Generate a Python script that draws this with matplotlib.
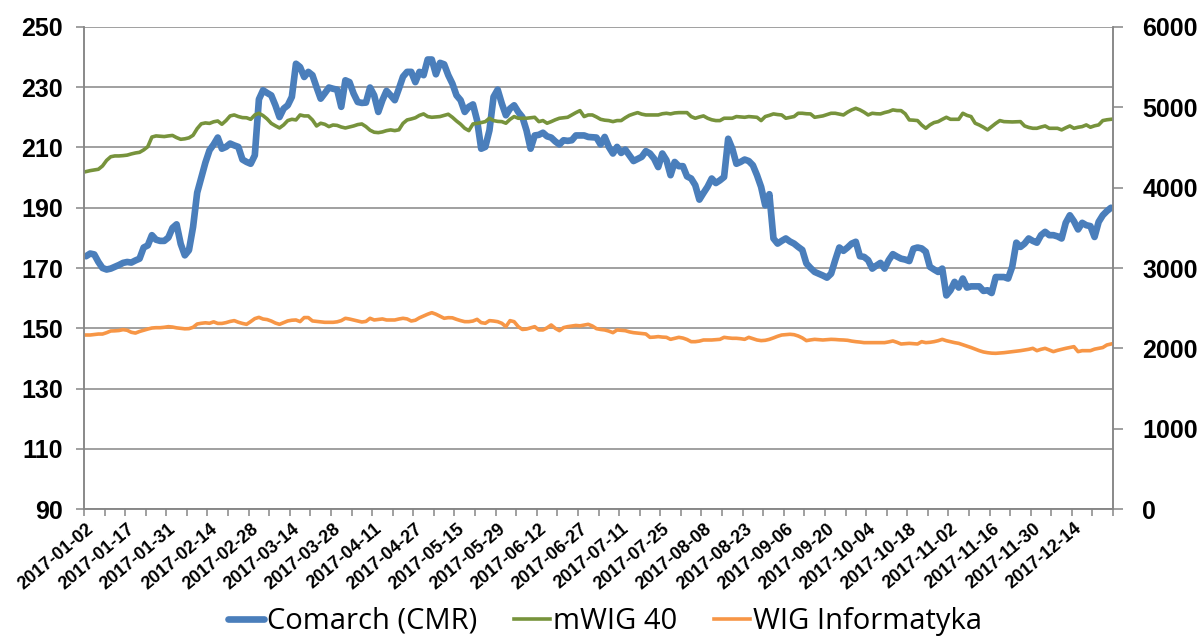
import matplotlib
matplotlib.use("Agg")
import matplotlib.pyplot as plt
import numpy as np
import pandas as pd

# Trading days on the Warsaw exchange in 2017 (weekdays minus market holidays)
holidays = ["2017-01-06", "2017-04-14", "2017-04-17", "2017-05-01", "2017-05-03",
            "2017-06-15", "2017-08-15", "2017-11-01", "2017-12-25", "2017-12-26"]
days = pd.bdate_range("2017-01-02", "2017-12-29")
days = days[~days.isin(pd.to_datetime(holidays))]
date_labels = [d.strftime("%Y-%m-%d") for d in days]

# Comarch (CMR) share price, left axis
comarch = [
    173.9, 174.8, 174.5, 172.0, 170.0, 169.5, 169.8, 170.4, 171.0, 171.7,
    172.0, 171.8, 172.5, 173.1, 176.8, 177.5, 180.9, 179.4, 179.0, 179.0,
    180.1, 183.3, 184.5, 178.0, 174.2, 175.9, 183.6, 195.0, 200.0, 205.0,
    209.1, 211.0, 213.3, 209.6, 210.2, 211.3, 210.7, 210.2, 206.0, 205.2,
    204.6, 207.4, 226.0, 229.0, 228.1, 227.3, 224.0, 220.1, 222.9, 224.0,
    226.8, 237.8, 236.7, 233.4, 235.1, 234.0, 230.0, 226.2, 228.0, 229.9,
    229.5, 229.2, 223.5, 232.3, 231.7, 227.9, 225.1, 224.8, 224.9, 229.9,
    227.3, 221.8, 225.7, 228.8, 227.3, 225.7, 229.5, 233.5, 235.1, 235.1,
    231.7, 235.1, 234.0, 239.2, 239.2, 234.3, 238.1, 237.6, 234.0, 231.2,
    227.3, 225.7, 221.8, 223.5, 224.3, 219.0, 209.6, 210.2, 215.7, 226.8,
    229.2, 224.6, 220.7, 222.9, 224.0, 221.8, 220.1, 215.7, 209.6, 214.0,
    214.2, 214.9, 213.7, 213.3, 212.0, 211.0, 212.4, 212.2, 212.4, 214.0,
    214.0, 214.0, 213.5, 213.4, 213.3, 211.0, 213.5, 210.2, 208.0, 210.2,
    208.2, 209.3, 207.4, 205.5, 206.2, 206.9, 208.8, 208.0, 206.3, 203.5,
    208.0, 205.8, 200.8, 205.2, 203.8, 203.8, 200.4, 199.7, 197.5, 192.7,
    194.9, 197.0, 199.7, 198.2, 199.1, 200.2, 212.9, 209.6, 204.6, 205.2,
    206.0, 205.5, 204.1, 200.8, 196.9, 190.8, 194.5, 179.8, 178.1, 179.0,
    179.8, 178.8, 178.1, 177.0, 176.0, 171.5, 170.0, 168.7, 168.1, 167.5,
    166.8, 168.1, 172.6, 176.8, 175.7, 176.8, 178.1, 178.7, 173.9, 173.7,
    172.6, 169.8, 170.8, 171.7, 169.8, 172.6, 174.6, 173.8, 173.1, 172.8,
    172.3, 176.4, 176.8, 176.5, 175.4, 170.4, 169.5, 168.7, 169.8, 160.9,
    162.6, 165.4, 163.5, 166.5, 163.5, 163.9, 163.9, 163.9, 162.4, 162.6,
    161.7, 167.0, 167.0, 167.0, 166.5, 170.4, 178.4, 177.0, 178.1, 179.8,
    179.0, 178.4, 180.9, 182.0, 180.9, 180.9, 180.5, 179.8, 185.0, 187.5,
    185.5, 182.8, 185.0, 184.2, 183.9, 180.3, 185.3, 187.5, 188.9, 190.0,
]

# mWIG 40 index, right axis
mwig40 = [
    4200, 4212, 4220, 4229, 4270, 4340, 4385, 4395, 4395, 4399,
    4405, 4420, 4432, 4440, 4470, 4510, 4630, 4644, 4640, 4636,
    4644, 4650, 4623, 4602, 4608, 4620, 4652, 4735, 4795, 4806,
    4800, 4820, 4830, 4789, 4835, 4893, 4905, 4885, 4872, 4870,
    4851, 4905, 4926, 4897, 4855, 4800, 4770, 4743, 4781, 4835,
    4851, 4843, 4905, 4893, 4893, 4843, 4768, 4802, 4789, 4760,
    4780, 4775, 4755, 4743, 4755, 4768, 4785, 4793, 4760, 4715,
    4690, 4685, 4694, 4710, 4719, 4710, 4720, 4800, 4843, 4855,
    4870, 4900, 4918, 4885, 4876, 4880, 4885, 4900, 4914, 4876,
    4830, 4790, 4739, 4710, 4793, 4800, 4810, 4822, 4864, 4835,
    4825, 4822, 4802, 4850, 4885, 4864, 4864, 4864, 4870, 4876,
    4822, 4835, 4802, 4822, 4845, 4864, 4870, 4876, 4905, 4934,
    4959, 4885, 4905, 4905, 4880, 4851, 4840, 4835, 4822, 4835,
    4835, 4870, 4900, 4918, 4934, 4915, 4905, 4905, 4905, 4905,
    4920, 4926, 4918, 4930, 4934, 4934, 4934, 4885, 4864, 4880,
    4893, 4864, 4845, 4835, 4835, 4864, 4864, 4864, 4885, 4880,
    4876, 4885, 4880, 4876, 4835, 4885, 4900, 4918, 4910, 4905,
    4864, 4875, 4885, 4926, 4926, 4920, 4918, 4876, 4885, 4893,
    4910, 4926, 4926, 4915, 4905, 4940, 4968, 4988, 4968, 4940,
    4905, 4926, 4920, 4918, 4935, 4947, 4968, 4960, 4959, 4920,
    4843, 4840, 4835, 4780, 4739, 4781, 4810, 4822, 4850, 4876,
    4851, 4851, 4851, 4926, 4900, 4885, 4802, 4780, 4752, 4719,
    4760, 4800, 4835, 4822, 4820, 4818, 4820, 4822, 4768, 4750,
    4739, 4739, 4755, 4768, 4739, 4739, 4739, 4719, 4745, 4768,
    4739, 4752, 4760, 4781, 4752, 4770, 4781, 4835, 4845, 4851,
]

# WIG Informatyka index, right axis
wig_info = [
    2166, 2166, 2172, 2178, 2178, 2195, 2216, 2218, 2222, 2233,
    2225, 2200, 2190, 2210, 2225, 2240, 2253, 2257, 2257, 2262,
    2270, 2265, 2255, 2249, 2243, 2245, 2262, 2303, 2312, 2318,
    2312, 2330, 2310, 2310, 2320, 2335, 2345, 2325, 2310, 2299,
    2333, 2370, 2386, 2365, 2358, 2340, 2315, 2299, 2320, 2341,
    2350, 2353, 2333, 2383, 2383, 2341, 2335, 2330, 2324, 2324,
    2324, 2330, 2345, 2374, 2365, 2353, 2340, 2328, 2335, 2374,
    2353, 2360, 2366, 2353, 2353, 2353, 2365, 2374, 2366, 2340,
    2350, 2380, 2403, 2425, 2444, 2425, 2400, 2374, 2382, 2380,
    2361, 2345, 2332, 2332, 2340, 2361, 2320, 2312, 2345, 2340,
    2332, 2312, 2270, 2345, 2332, 2270, 2235, 2240, 2255, 2270,
    2229, 2229, 2255, 2291, 2249, 2220, 2258, 2270, 2278, 2285,
    2280, 2290, 2299, 2278, 2245, 2235, 2229, 2215, 2195, 2229,
    2225, 2220, 2205, 2195, 2190, 2185, 2179, 2137, 2140, 2146,
    2140, 2137, 2112, 2125, 2137, 2128, 2110, 2083, 2083, 2090,
    2104, 2104, 2104, 2108, 2112, 2137, 2130, 2125, 2125, 2120,
    2112, 2137, 2120, 2104, 2096, 2100, 2112, 2130, 2150, 2166,
    2170, 2175, 2170, 2154, 2130, 2096, 2105, 2112, 2108, 2104,
    2108, 2112, 2110, 2106, 2104, 2100, 2090, 2083, 2078, 2071,
    2071, 2071, 2071, 2071, 2071, 2080, 2092, 2075, 2054, 2058,
    2062, 2058, 2054, 2083, 2071, 2075, 2083, 2095, 2112, 2095,
    2083, 2071, 2062, 2045, 2029, 2010, 1990, 1971, 1955, 1946,
    1940, 1938, 1942, 1946, 1952, 1959, 1965, 1971, 1980, 1988,
    2000, 1971, 1988, 2000, 1980, 1959, 1975, 1988, 2000, 2010,
    2021, 1959, 1971, 1971, 1971, 1990, 2000, 2010, 2042, 2054,
]

grey = "#868686"
tick_font = {"family": "Liberation Sans", "weight": "bold"}

fig = plt.figure(figsize=(11.98, 6.41), dpi=100)
ax = fig.add_axes([0.0701, 0.2059, 0.859, 0.752])
ax2 = ax.twinx()

x = np.arange(len(date_labels))

ax.plot(x, comarch, color="#4A7EBB", linewidth=4.8, solid_capstyle="round",
        solid_joinstyle="round", label="Comarch (CMR)")
ax2.plot(x, mwig40, color="#77933C", linewidth=2.6, solid_joinstyle="round",
         label="mWIG 40")
ax2.plot(x, wig_info, color="#F79646", linewidth=2.6, solid_joinstyle="round",
         label="WIG Informatyka")

# Left axis
ax.set_ylim(90, 250)
ax.set_yticks(np.arange(90, 251, 20))
ax.yaxis.grid(True, color=grey, linewidth=1.1)
ax.set_axisbelow(True)
ax.tick_params(axis="y", length=6, width=1.1, color=grey, pad=9, labelsize=18)

# Right axis
ax2.set_ylim(0, 6000)
ax2.set_yticks(np.arange(0, 6001, 1000))
ax2.tick_params(axis="y", length=7, width=1.1, color=grey, pad=14, labelsize=18)

# Category axis: tick marks every 5 sessions, labels every 10
ax.set_xlim(-0.5, len(x) - 0.5)
ax.set_xticks(x[::10])
ax.set_xticklabels(date_labels[::10], rotation=40, ha="right", va="top",
                   rotation_mode="anchor", fontsize=13, **tick_font)
ax.set_xticks(np.arange(0, len(x) + 1, 5) - 0.5, minor=True)
ax.tick_params(axis="x", which="major", length=0, pad=8)
ax.tick_params(axis="x", which="minor", length=5, width=1.1, color=grey)

for lab in ax.get_yticklabels() + ax2.get_yticklabels():
    lab.set_fontfamily("Liberation Sans")
    lab.set_fontweight("bold")

for a in (ax, ax2):
    a.spines["top"].set_visible(False)
    for s in ("left", "right", "bottom"):
        a.spines[s].set_color(grey)
        a.spines[s].set_linewidth(1.1)

handles = ax.get_lines() + ax2.get_lines()
fig.legend(handles, [h.get_label() for h in handles], loc="lower center",
           bbox_to_anchor=(0.505, -0.033), ncol=3, frameon=False,
           prop={"family": "Open Sans", "size": 21}, handlelength=1.25,
           handletextpad=0.1, columnspacing=1.25)

fig.savefig("out.png", dpi=100)
